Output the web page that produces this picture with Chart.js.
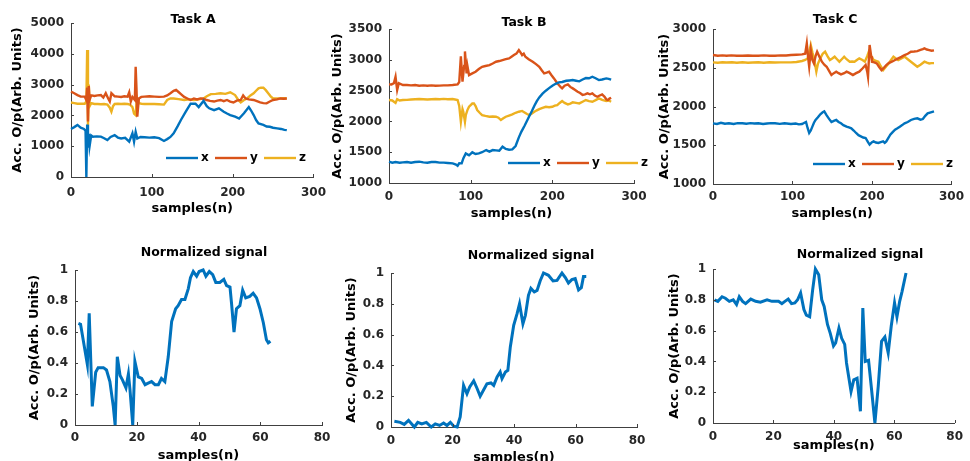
<!DOCTYPE html>
<html>
<head>
<meta charset="utf-8">
<script src="https://cdn.jsdelivr.net/npm/chart.js@4.4.1/dist/chart.umd.min.js"></script>
<style>
  html, body { margin: 0; padding: 0; background: #fff; overflow: hidden; }
  #fig { position: relative; width: 970px; height: 461px; overflow: hidden; }
  #fig canvas { position: absolute; }
</style>
</head>
<body>
<div id="fig"></div>
<script>
// ---- data ----
const seriesNames = ["x", "y", "z"];
const xLabel = "samples(n)";
const yLabel = "Acc. O/p(Arb. Units)";

// Task A
const taskA_xN = [0,4,8,12,16,18,19,20,21,22,23,25,27,32,37,41,45,49,54,58,62,67,72,76,78,80,82,86,91,97,103,109,115,119,123,127,132,136,142,148,154,158,164,168,171,177,183,189,193,197,203,208,214,220,223,226,229,232,238,242,246,250,255,260,264,267];
const taskA_xV = [1560,1620,1690,1600,1560,1500,0,1700,950,1400,1000,1350,1310,1320,1310,1260,1200,1300,1360,1280,1250,1270,1150,1420,1150,1470,1250,1300,1290,1280,1290,1260,1170,1230,1300,1420,1650,1850,2120,2380,2380,2270,2470,2300,2230,2170,2230,2120,2060,2010,1960,1900,2070,2270,2150,2010,1850,1740,1690,1640,1630,1600,1580,1560,1530,1520];
const taskA_yN = [0,4,8,12,17,19,20,21,22,23,25,29,33,37,40,43,46,48,50,54,58,62,66,70,72,74,76,79,80,81,82,84,87,91,97,103,109,115,119,123,127,130,133,136,140,144,148,152,156,160,164,168,172,177,181,185,189,193,197,201,205,210,213,216,220,226,230,234,238,242,246,250,255,259,263,267];
const taskA_yV = [2770,2720,2660,2610,2610,2500,2900,1800,2950,2500,2650,2630,2650,2660,2580,2720,2550,2450,2720,2620,2610,2600,2620,2610,2750,2450,2600,2500,3580,2900,1960,2550,2600,2610,2620,2610,2600,2610,2650,2720,2800,2830,2760,2690,2600,2550,2500,2550,2520,2550,2540,2500,2470,2450,2480,2500,2460,2500,2450,2420,2480,2500,2650,2550,2520,2500,2460,2420,2400,2390,2450,2500,2520,2550,2540,2550];
const taskA_zN = [0,4,8,12,17,19,20,21,22,23,25,29,33,37,41,45,48,50,52,54,58,62,66,70,73,76,78,80,81,82,84,87,91,97,103,109,115,119,123,127,133,140,146,152,158,164,168,173,179,185,191,197,203,207,210,214,218,222,226,229,232,235,238,241,244,247,250,255,259,263,267];
const taskA_zV = [2420,2400,2380,2380,2380,2450,4120,1690,3000,2300,2400,2370,2370,2360,2370,2350,2250,2120,2300,2370,2380,2370,2380,2370,2350,2270,2060,2010,2400,2550,2400,2380,2370,2370,2370,2360,2350,2500,2550,2550,2530,2500,2520,2500,2520,2550,2620,2690,2700,2720,2700,2750,2660,2500,2420,2500,2550,2650,2720,2800,2880,2900,2900,2820,2720,2620,2550,2550,2550,2560,2550];

// Task B
const taskB_xN = [0,4,8,13,17,22,27,32,37,42,47,52,57,62,67,72,78,82,84,86,89,91,94,98,102,106,110,114,119,123,127,131,135,139,143,147,151,155,159,162,166,169,172,175,178,181,184,188,192,196,200,204,208,212,217,221,225,229,233,237,241,245,249,253,257,261,266,269,272];
const taskB_xV = [1346,1330,1340,1330,1335,1340,1330,1340,1346,1335,1330,1340,1340,1330,1330,1325,1319,1300,1281,1320,1319,1400,1481,1450,1498,1470,1481,1500,1535,1510,1535,1530,1525,1590,1552,1540,1545,1600,1741,1830,1930,2010,2092,2170,2254,2330,2390,2450,2498,2540,2579,2610,2633,2640,2660,2665,2671,2660,2650,2680,2704,2700,2725,2700,2671,2680,2698,2690,2677];
const taskB_yN = [0,3,6,8,10,12,17,22,27,32,37,42,47,52,57,62,67,72,78,84,86,88,90,92,93,95,96,98,102,106,110,114,118,123,127,131,135,139,143,147,150,153,156,159,161,163,165,167,171,176,180,184,187,190,193,196,199,202,205,208,210,212,215,219,222,225,228,231,234,237,240,243,246,249,252,255,258,261,264,266,268,270,272];
const taskB_yV = [2601,2600,2620,2725,2509,2620,2590,2590,2585,2590,2579,2585,2580,2585,2579,2580,2585,2585,2590,2601,2640,3055,2644,2900,3136,2779,2900,2752,2780,2806,2850,2887,2900,2914,2940,2969,2980,2996,3010,3023,3050,3077,3100,3158,3120,3077,3100,3050,3010,2969,2930,2887,2830,2779,2790,2806,2750,2698,2640,2590,2560,2536,2580,2601,2560,2536,2510,2482,2460,2428,2440,2455,2440,2455,2420,2400,2420,2438,2400,2360,2346,2370,2384];
const taskB_zN = [0,4,8,10,13,17,22,27,32,37,42,47,52,57,62,67,72,78,84,86,88,90,91,93,94,96,98,100,102,104,106,108,111,114,118,123,127,131,134,137,140,143,147,151,155,159,163,166,169,172,175,178,181,184,188,192,196,200,203,206,209,212,215,219,222,225,229,233,237,241,245,249,253,257,261,266,269,272];
const taskB_zV = [2347,2340,2300,2360,2340,2347,2350,2355,2360,2363,2360,2355,2360,2363,2360,2365,2360,2363,2347,2250,1995,2200,2157,1995,2100,2184,2240,2265,2290,2292,2250,2184,2140,2103,2090,2076,2080,2076,2060,2022,2050,2076,2095,2114,2140,2157,2170,2146,2120,2103,2130,2157,2180,2200,2220,2238,2230,2238,2255,2265,2300,2330,2300,2276,2290,2309,2300,2292,2320,2347,2330,2319,2345,2373,2350,2330,2340,2319];

// Task C
const taskC_xN = [0,5,10,15,20,26,31,37,42,47,52,57,63,68,73,78,84,90,98,104,108,112,115,117,119,121,123,125,127,129,132,135,138,140,143,146,149,152,155,158,161,164,168,171,174,177,180,183,186,189,192,195,197,200,202,205,208,211,214,216,218,221,223,226,229,232,235,238,241,245,249,253,257,261,264,267,270,274,278];
const taskC_xV = [1783,1775,1790,1778,1783,1775,1785,1783,1778,1785,1780,1783,1775,1780,1785,1783,1776,1783,1774,1780,1770,1774,1790,1800,1723,1658,1690,1740,1790,1826,1860,1900,1925,1938,1886,1840,1800,1815,1826,1800,1783,1760,1740,1730,1719,1690,1658,1630,1615,1600,1594,1540,1508,1540,1550,1535,1529,1540,1550,1530,1550,1600,1636,1670,1701,1720,1740,1760,1783,1800,1826,1840,1847,1830,1838,1880,1912,1925,1938];
const taskC_yN = [0,6,12,17,23,30,37,44,50,57,64,71,78,85,92,98,105,112,116,118,120,121,123,125,127,129,131,134,137,140,143,146,149,152,155,158,161,165,168,172,176,180,184,188,192,194,195,197,199,200,203,206,209,212,215,218,221,225,229,233,237,241,245,249,253,257,261,264,266,269,272,275,278];
const taskC_yV = [2664,2655,2660,2655,2660,2655,2655,2658,2655,2655,2660,2655,2655,2660,2658,2664,2668,2672,2680,2814,2600,2513,2728,2600,2556,2650,2707,2640,2578,2540,2513,2460,2406,2430,2449,2430,2414,2430,2449,2430,2406,2430,2449,2490,2535,2450,2384,2793,2650,2578,2570,2556,2510,2470,2500,2535,2560,2578,2600,2621,2640,2664,2680,2707,2710,2715,2730,2740,2750,2735,2728,2720,2725];
const taskC_zN = [0,6,12,17,24,30,37,44,50,57,64,71,78,85,92,98,105,112,116,119,121,123,125,127,130,132,135,138,141,144,147,150,153,156,159,162,165,168,172,175,178,181,184,188,191,194,196,199,202,205,208,211,214,218,221,224,227,230,233,237,241,245,249,253,257,261,266,269,272,275,278];
const taskC_zV = [2570,2565,2570,2568,2570,2565,2570,2565,2568,2570,2565,2570,2568,2570,2570,2570,2575,2587,2600,2621,2700,2793,2700,2621,2449,2550,2621,2680,2707,2650,2600,2620,2643,2610,2578,2610,2643,2610,2578,2580,2578,2600,2621,2600,2578,2650,2707,2650,2600,2590,2578,2520,2470,2520,2556,2600,2643,2620,2600,2620,2643,2610,2578,2545,2513,2540,2578,2565,2556,2560,2560];

// Normalized signals
const normA_n = [1.1,1.8,4,4.6,5.6,6.7,7.5,9.2,10.2,11.3,12.4,13,13.7,14.6,15.4,16.5,17.3,17.8,18.7,19.4,20.5,21.6,22.7,23.7,24.8,25.9,27,28,29.1,30.2,31.3,32.6,33.4,34.5,35.6,36.7,37.4,38.3,39.4,40.2,41.5,42.4,43.5,44.6,45.6,46.9,48.2,49.1,50.2,50.7,51.5,52.3,53.4,54.3,55.3,56.6,57.7,58.8,59.9,61,62,62.6,63.3];
const normA_v = [0.656,0.65,0.39,0.72,0.12,0.34,0.37,0.37,0.355,0.28,0.12,0,0.44,0.32,0.29,0.24,0.33,0.23,0,0.41,0.31,0.30,0.26,0.27,0.28,0.26,0.26,0.30,0.28,0.44,0.667,0.75,0.77,0.81,0.81,0.88,0.95,0.99,0.96,0.99,1.0,0.96,0.99,0.97,0.92,0.92,0.94,0.90,0.89,0.785,0.60,0.75,0.77,0.87,0.82,0.83,0.85,0.82,0.75,0.66,0.55,0.53,0.54];
const normB_n = [1.1,3,4.3,5.7,7.6,8.7,10,11.5,13.1,14.4,15.8,17.1,18.2,19.3,20.4,21.5,22.5,23.6,24.7,25.6,26.9,28,29,30.1,31.2,32.5,33.4,34.5,35.5,36.1,37.2,38,38.8,39.9,41,41.8,42.9,43.7,44.7,45.5,46.6,47.5,48.5,49.6,51.2,52.7,54,55.6,56.7,57.7,58.8,59.9,61,61.9,62.6,63.5];
const normB_v = [0.037,0.03,0.017,0.043,0,0.03,0.02,0.03,0,0.02,0.01,0.026,0.01,0.03,0.005,0,0.065,0.27,0.216,0.26,0.30,0.25,0.20,0.24,0.28,0.286,0.27,0.325,0.357,0.314,0.357,0.368,0.52,0.66,0.736,0.80,0.67,0.725,0.855,0.90,0.877,0.887,0.948,1.0,0.985,0.948,0.952,1.0,0.97,0.935,0.957,0.963,0.89,0.905,0.978,0.978];
const normC_n = [0.5,1.6,3,4.1,5.4,6.7,7.8,8.7,9.8,10.8,12.5,14.1,15.7,17.9,19.5,21.7,22.8,23.8,24.9,26,27.1,28,29,30.1,30.9,32,33,33.9,35,36,36.8,37.9,38.8,39.9,40.6,41.7,42.6,43.6,44.2,45,45.7,46.6,47.7,48.8,49.6,50.4,51.5,52.5,53.6,54.7,55.8,56.9,58,59,60.1,60.9,61.8,62.6,63.9];
const normC_v = [0.80,0.79,0.82,0.81,0.79,0.80,0.77,0.82,0.79,0.775,0.805,0.79,0.785,0.80,0.79,0.79,0.775,0.79,0.805,0.775,0.78,0.80,0.845,0.736,0.70,0.69,0.866,1.0,0.963,0.80,0.757,0.64,0.584,0.50,0.52,0.617,0.55,0.51,0.39,0.29,0.205,0.28,0.29,0.076,0.747,0.40,0.407,0.216,0,0.238,0.53,0.558,0.455,0.628,0.78,0.69,0.79,0.855,0.974];

const topTicks = [0, 100, 200, 300];
const normTicks = [0, 20, 40, 60, 80];

// ---- styling ----
const colors = ["#0072BD", "#D95319", "#EDB120"];
const fontFamily = '"DejaVu Sans", "Liberation Sans", sans-serif';
const axisColor = "#404040";
const tickColor = "#262626";

function pts(n, v) {
    return n.map((s, i) => ({ x: s, y: v[i] }));
}

const deco = {
    id: "deco",
    afterDraw(chart, args, o) {
        const ctx = chart.ctx;
        const a = chart.chartArea;
        const xs = chart.scales.x, ys = chart.scales.y;
        ctx.save();
        ctx.strokeStyle = axisColor;
        ctx.lineWidth = 1;
        xs.ticks.forEach(t => {
            const p = Math.round(xs.getPixelForValue(t.value)) + 0.5;
            ctx.beginPath();
            ctx.moveTo(p, a.bottom);
            ctx.lineTo(p, a.bottom - 3);
            ctx.stroke();
        });
        ys.ticks.forEach(t => {
            const p = Math.round(ys.getPixelForValue(t.value)) + 0.5;
            ctx.beginPath();
            ctx.moveTo(a.left, p);
            ctx.lineTo(a.left + 3, p);
            ctx.stroke();
        });
        ctx.fillStyle = "#000";
        ctx.font = "bold 12.5px " + fontFamily;
        ctx.textAlign = "center";
        ctx.textBaseline = "middle";
        ctx.fillText(o.title, o.titleX - o.left, o.titleY - o.top);
        if (o.legendX !== undefined) {
            ctx.font = "bold 12px " + fontFamily;
            ctx.textAlign = "left";
            chart.data.datasets.forEach((ds, i) => {
                const lx = o.legendX - o.left + i * 49;
                const ly = o.legendY - o.top;
                ctx.strokeStyle = ds.borderColor;
                ctx.lineWidth = 2.4;
                ctx.beginPath();
                ctx.moveTo(lx, ly);
                ctx.lineTo(lx + 32, ly);
                ctx.stroke();
                ctx.fillStyle = "#000";
                ctx.fillText(ds.label, lx + 35, ly);
            });
        }
        ctx.restore();
    }
};

function makePanel(p) {
    const c = document.createElement("canvas");
    c.width = p.w;
    c.height = p.h;
    c.style.left = p.left + "px";
    c.style.top = p.top + "px";
    document.getElementById("fig").appendChild(c);

    new Chart(c, {
        type: "line",
        data: { datasets: p.datasets },
        plugins: [deco],
        options: {
            responsive: false,
            animation: false,
            devicePixelRatio: 1,
            events: [],
            layout: { padding: { left: 0, top: p.pt, right: p.pr, bottom: 0 } },
            elements: { point: { radius: 0 }, line: { tension: 0 } },
            plugins: {
                legend: { display: false },
                tooltip: { enabled: false },
                deco: {
                    title: p.title, titleX: p.titleX, titleY: p.titleY,
                    legendX: p.legendX, legendY: p.legendY,
                    left: p.left, top: p.top
                }
            },
            scales: {
                x: {
                    type: "linear",
                    min: p.xTicks[0],
                    max: p.xTicks[p.xTicks.length - 1],
                    afterFit: s => { s.height = p.xh; },
                    afterBuildTicks: s => { s.ticks = p.xTicks.map(v => ({ value: v })); },
                    ticks: {
                        color: tickColor,
                        padding: p.xPad,
                        maxRotation: 0,
                        autoSkip: false,
                        font: { family: fontFamily, size: 12, weight: "bold" },
                        callback: v => String(v)
                    },
                    grid: { display: false, drawTicks: false },
                    border: { display: true, color: axisColor, width: 1 },
                    title: {
                        display: true, text: xLabel, color: "#000",
                        font: { family: fontFamily, size: 13, weight: "bold" },
                        padding: { top: 0, bottom: 2 }
                    }
                },
                y: {
                    min: p.yTicks[0],
                    max: p.yTicks[p.yTicks.length - 1],
                    afterFit: s => { s.width = p.yw; },
                    afterBuildTicks: s => { s.ticks = p.yTicks.map(v => ({ value: v })); },
                    ticks: {
                        color: tickColor,
                        padding: 7,
                        autoSkip: false,
                        font: { family: fontFamily, size: 12, weight: "bold" },
                        callback: v => String(Number(v.toFixed(1)))
                    },
                    grid: { display: false, drawTicks: false },
                    border: { display: true, color: axisColor, width: 1 },
                    title: {
                        display: true, text: yLabel, color: "#000",
                        font: { family: fontFamily, size: 13, weight: "bold" },
                        padding: { top: p.yTitlePad, bottom: 0 }
                    }
                }
            }
        }
    });
}

function triple(xn, xv, yn, yv, zn, zv) {
    return [[xn, xv], [yn, yv], [zn, zv]].map((s, i) => ({
        label: seriesNames[i],
        data: pts(s[0], s[1]),
        borderColor: colors[i],
        borderWidth: 2.4,
        clip: false
    }));
}

function single(n, v) {
    return [{ label: "signal", data: pts(n, v), borderColor: colors[0], borderWidth: 3, clip: false }];
}

makePanel({
    left: 0, top: 0, w: 335, h: 218, pt: 23, pr: 20, yw: 71, xh: 41, xPad: 9, yTitlePad: 10,
    xTicks: topTicks, yTicks: [0, 1000, 2000, 3000, 4000, 5000],
    title: "Task A", titleX: 193, titleY: 20, legendX: 166, legendY: 158,
    datasets: triple(taskA_xN, taskA_xV, taskA_yN, taskA_yV, taskA_zN, taskA_zV)
});
makePanel({
    left: 320, top: 0, w: 334, h: 223, pt: 29, pr: 20, yw: 69, xh: 40, xPad: 7, yTitlePad: 10,
    xTicks: topTicks, yTicks: [1000, 1500, 2000, 2500, 3000, 3500],
    title: "Task B", titleX: 524, titleY: 23, legendX: 508, legendY: 163,
    datasets: triple(taskB_xN, taskB_xV, taskB_yN, taskB_yV, taskB_zN, taskB_zV)
});
makePanel({
    left: 650, top: 0, w: 320, h: 223, pt: 29, pr: 12, yw: 63, xh: 39, xPad: 6, yTitlePad: 7,
    xTicks: topTicks, yTicks: [1000, 1500, 2000, 2500, 3000],
    title: "Task C", titleX: 835, titleY: 20, legendX: 813, legendY: 164,
    datasets: triple(taskC_xN, taskC_xV, taskC_yN, taskC_yV, taskC_zN, taskC_zV)
});
makePanel({
    left: 0, top: 230, w: 340, h: 235, pt: 40, pr: 18, yw: 75, xh: 40, xPad: 6, yTitlePad: 27,
    xTicks: normTicks, yTicks: [0, 0.2, 0.4, 0.6, 0.8, 1],
    title: "Normalized signal", titleX: 204, titleY: 253,
    datasets: single(normA_n, normA_v)
});
makePanel({
    left: 320, top: 230, w: 335, h: 237, pt: 43, pr: 18, yw: 71, xh: 40, xPad: 7, yTitlePad: 24,
    xTicks: normTicks, yTicks: [0, 0.2, 0.4, 0.6, 0.8, 1],
    title: "Normalized signal", titleX: 531, titleY: 256,
    datasets: single(normB_n, normB_v)
});
makePanel({
    left: 650, top: 230, w: 320, h: 225, pt: 39, pr: 11, yw: 63, xh: 32, xPad: 7, yTitlePad: 17,
    xTicks: normTicks, yTicks: [0, 0.2, 0.4, 0.6, 0.8, 1],
    title: "Normalized signal", titleX: 860, titleY: 255,
    datasets: single(normC_n, normC_v)
});
</script>
</body>
</html>
